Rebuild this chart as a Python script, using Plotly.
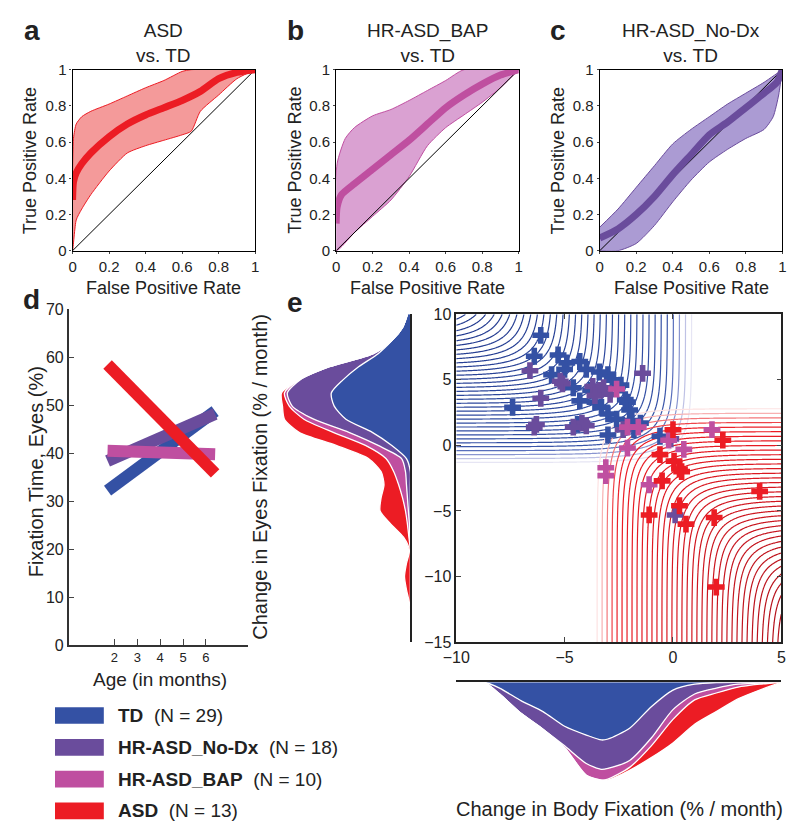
import numpy as np
import plotly.graph_objects as go

W, H = 800, 839
FONT = "Liberation Sans, Arial, sans-serif"

# group colours
c_td = "#3451a4"
c_nodx = "#6a4c9c"
c_bap = "#bf4fa0"
c_asd = "#ec1c24"

# ---- ROC curves (a, b, c) ----
asd_fpr = [0, 0.005, 0.02, 0.05, 0.1, 0.2, 0.3, 0.4, 0.5, 0.6, 0.7, 0.8, 0.9, 1.0]
asd_mean = [0.28, 0.38, 0.43, 0.48, 0.54, 0.63, 0.70, 0.75, 0.79, 0.83, 0.88, 0.95, 0.985, 1.0]
asd_up_fpr = [0, 0.005, 0.02, 0.05, 0.1, 0.2, 0.3, 0.4, 0.5, 0.6, 0.65, 1.0]
asd_up = [0.0, 0.62, 0.70, 0.74, 0.77, 0.81, 0.855, 0.90, 0.94, 0.99, 1.0, 1.0]
asd_lo_fpr = [0, 0.02, 0.05, 0.1, 0.2, 0.3, 0.4, 0.5, 0.6, 0.65, 0.7, 0.8, 0.9, 1.0]
asd_lo = [0.0, 0.17, 0.23, 0.31, 0.44, 0.54, 0.58, 0.61, 0.64, 0.66, 0.77, 0.86, 0.95, 1.0]

bap_fpr = [0, 0.005, 0.03, 0.1, 0.2, 0.3, 0.4, 0.5, 0.6, 0.7, 0.8, 0.9, 1.0]
bap_mean = [0.15, 0.24, 0.31, 0.37, 0.45, 0.53, 0.61, 0.70, 0.79, 0.86, 0.92, 0.97, 1.0]
bap_up_fpr = [0, 0.005, 0.05, 0.1, 0.2, 0.3, 0.4, 0.5, 0.6, 0.7, 1.0]
bap_up = [0.0, 0.48, 0.62, 0.68, 0.745, 0.78, 0.83, 0.885, 0.94, 1.0, 1.0]
bap_lo_fpr = [0, 0.1, 0.2, 0.3, 0.4, 0.5, 0.6, 0.7, 0.8, 0.9, 1.0]
bap_lo = [0.0, 0.10, 0.19, 0.28, 0.41, 0.58, 0.68, 0.75, 0.82, 0.90, 1.0]

nodx_fpr = [0, 0.1, 0.2, 0.3, 0.4, 0.5, 0.6, 0.7, 0.8, 0.9, 0.97, 1.0]
nodx_mean = [0.07, 0.12, 0.20, 0.30, 0.42, 0.53, 0.64, 0.71, 0.79, 0.87, 0.93, 1.0]
nodx_up_fpr = [0, 0.1, 0.2, 0.3, 0.4, 0.5, 0.6, 0.7, 0.8, 0.9, 1.0]
nodx_up = [0.13, 0.23, 0.35, 0.47, 0.59, 0.67, 0.74, 0.81, 0.87, 0.93, 1.0]
nodx_lo_fpr = [0, 0.1, 0.2, 0.3, 0.4, 0.5, 0.6, 0.7, 0.8, 0.9, 0.95, 0.98, 1.0]
nodx_lo = [0.0, 0.0, 0.04, 0.14, 0.27, 0.39, 0.49, 0.56, 0.62, 0.67, 0.74, 0.86, 1.0]

roc_ticks = [0, 0.2, 0.4, 0.6, 0.8, 1]
roc_ticktext = ["0", "0.2", "0.4", "0.6", "0.8", "1"]

# ---- panel d: fixation time vs age ----
age_months = [1.7, 6.4]
fix_td = [32.2, 48.8]
fix_nodx = [38.4, 48.2]
fix_bap = [40.5, 39.8]
fix_asd = [58.5, 35.8]

# ---- panel e: scatter of change rates ----
td_x = [-6.1, -6.4, -5.3, -4.9, -4.3, -4.0, -5.0, -3.0, -2.8, -3.4, -7.4, -4.3, -3.6, -3.0, -2.1,
        -2.0, -2.2, -3.0, -1.5, -1.8, -4.4, -2.6, -0.6, -3.8, -4.6, -1.9, -3.3, -5.6, -2.4]
td_y = [8.4, 6.8, 6.9, 6.3, 6.4, 5.8, 5.8, 5.4, 5.0, 5.6, 2.9, 3.4, 3.3, 2.4, 3.3,
        2.7, 3.5, 0.8, 1.7, 1.2, 1.6, 2.0, 0.7, 4.2, 4.4, 1.9, 2.9, 5.4, 4.6]
nodx_x = [-6.6, -6.1, -6.4, -6.3, -5.1, -5.2, -4.2, -4.0, -3.7, -3.4, -3.2, -1.4, 0.1, -0.1,
          -4.6, -3.6, -2.9, -2.3]
nodx_y = [5.7, 3.6, 1.4, 1.6, 4.7, 4.9, 1.7, 1.5, 4.5, 4.2, 4.4, 5.5, -5.3, 0.5,
          1.4, 3.8, 3.9, 1.2]
bap_x = [-3.1, -3.1, -2.1, -2.1, -1.6, -1.1, -2.6, -0.2, 1.8, 0.5]
bap_y = [-1.7, -2.3, -0.2, 1.4, 1.4, -3.0, 4.3, 0.4, 1.2, -0.3]
asd_x = [0.0, 2.3, -0.6, 0.05, 0.3, -0.5, 4.0, -1.1, 0.3, 0.6, 1.9, 2.0, 0.4]
asd_y = [1.2, 0.4, -0.7, -1.2, -1.8, -2.7, -3.5, -5.3, -4.6, -6.0, -5.5, -10.8, -2.0]

# marginal density of eyes-fixation change (stacked, left)
eyes_y = [10, 9, 8, 7, 6, 5, 4, 3, 2, 1, 0, -1, -2, -3, -4, -5, -6, -7, -8, -9, -10, -11, -12, -13, -15]
eyes_td = [3, 8, 19, 33, 53, 69, 81, 78, 66, 39, 19, 4, 0, 0, 0, 0, 0, 0, 0, 0, 0, 0, 0, 0, 0]
eyes_nodx = [0, 0, 0, 5, 30, 44, 45, 43, 33, 24, 14, 5, 5, 4, 3, 2, 1, 0.5, 0, 0, 0, 0, 0, 0, 0]
eyes_bap = [0, 0, 0, 0, 0, 1, 3, 3, 10, 16, 13, 16, 12, 8, 5, 3, 2, 1, 0, 0, 0, 0, 0, 0, 0]
eyes_asd = [0, 0, 0, 0, 0, 0, 3, 7, 20, 35, 30, 18, 13, 15, 22, 26, 17, 5.5, 1, 4, 6, 4, 1, 0, 0]

# marginal density of body-fixation change (stacked, bottom)
body_x = [-10, -9, -8.7, -8, -7, -6, -5, -4, -3.3, -3, -2, -1, 0, 1, 2, 3, 4, 5]
body_td = [0, 0, 0, 6, 19, 30, 45, 54, 59, 58, 47, 25, 8, 2, 0.3, 0, 0, 0]
body_nodx = [0, 0, 0, 6, 13, 18, 20, 29, 30, 30, 33, 32, 20, 10, 5.7, 2, 1, 0]
body_bap = [0, 0, 0, 0, 0, 0, 2, 12, 11, 11, 7, 8, 10, 6, 5, 3, 1, 0]
body_asd = [0, 0, 0, 0, 0, 0, 0, 0, 0, 1, 3, 12, 24, 25, 19, 12, 6, 0]

groups = ["TD", "HR-ASD_No-Dx", "HR-ASD_BAP", "ASD"]
group_n = [29, 18, 10, 13]
group_colors = [c_td, c_nodx, c_bap, c_asd]


def hx(a, b):
    return [a / W, b / W]


def vy(top, bottom):
    return [1 - bottom / H, 1 - top / H]


fig = go.Figure()

# ROC panels
roc_sets = [
    (asd_fpr, asd_mean, asd_up_fpr, asd_up, asd_lo_fpr, asd_lo, c_asd, "rgba(240,120,120,0.75)", "x", "y"),
    (bap_fpr, bap_mean, bap_up_fpr, bap_up, bap_lo_fpr, bap_lo, c_bap, "rgba(205,130,195,0.75)", "x2", "y2"),
    (nodx_fpr, nodx_mean, nodx_up_fpr, nodx_up, nodx_lo_fpr, nodx_lo, c_nodx, "rgba(150,130,200,0.8)", "x3", "y3"),
]
for fpr, mean, ufpr, up, lfpr, lo, col, band, xa, ya in roc_sets:
    fig.add_trace(go.Scatter(x=list(ufpr) + list(lfpr)[::-1], y=list(up) + list(lo)[::-1],
                             fill="toself", fillcolor=band, mode="lines",
                             line=dict(color=col, width=1, shape="spline", smoothing=0.6),
                             xaxis=xa, yaxis=ya, hoverinfo="skip"))
    fig.add_trace(go.Scatter(x=[0, 1], y=[0, 1], mode="lines", line=dict(color="black", width=1),
                             xaxis=xa, yaxis=ya, hoverinfo="skip"))
    fig.add_trace(go.Scatter(x=fpr, y=mean, mode="lines",
                             line=dict(color=col, width=7, shape="spline", smoothing=0.6),
                             xaxis=xa, yaxis=ya))

# panel d
for vals, col in [(fix_td, c_td), (fix_nodx, c_nodx), (fix_bap, c_bap), (fix_asd, c_asd)]:
    fig.add_trace(go.Scatter(x=age_months, y=vals, mode="lines", line=dict(color=col, width=12),
                             xaxis="x4", yaxis="y4"))

# panel e contour backgrounds (smooth corner fields around each group's region)
gx = np.linspace(-10, 5, 301)
gy = np.linspace(-15, 10, 501)
GX, GY = np.meshgrid(gx, gy)
soft = 5.0


def corner_field(a, b):
    return -soft * np.logaddexp(-a / soft, -b / soft)


td_edge_x, td_edge_y, td_step_x, td_step_y = 0.86, -1.3, 0.28, 0.30
asd_edge_x, asd_edge_y, asd_step_x, asd_step_y = -3.5, 2.8, 0.23, 0.35
z_td = corner_field((GY - td_edge_y) / td_step_y, (td_edge_x - GX) / td_step_x)
z_asd = corner_field((asd_edge_y - GY) / asd_step_y, (GX - asd_edge_x) / asd_step_x)

blue_scale = [[0, "#e6e5f4"], [0.03, "#b9bde3"], [0.07, "#6477c2"], [0.11, "#3551a6"], [1, "#1f368a"]]
red_scale = [[0, "#fde2e2"], [0.03, "#f7a9aa"], [0.07, "#f05055"], [0.11, "#ec1c24"], [1, "#b0101a"]]
for z, cs in [(z_td, blue_scale), (z_asd, red_scale)]:
    fig.add_trace(go.Contour(x=gx, y=gy, z=z, contours=dict(start=0, end=40, size=1, coloring="lines"),
                             colorscale=cs, zmin=0, zmax=38, showscale=False,
                             line=dict(width=1.2), xaxis="x5", yaxis="y5", hoverinfo="skip"))

for xs, ys, col in [(td_x, td_y, c_td), (nodx_x, nodx_y, c_nodx), (bap_x, bap_y, c_bap), (asd_x, asd_y, c_asd)]:
    fig.add_trace(go.Scatter(x=xs, y=ys, mode="markers",
                             marker=dict(symbol="cross", size=14, color=col, line=dict(width=0)),
                             xaxis="x5", yaxis="y5"))

# marginal densities
for vals, col in [(eyes_td, c_td), (eyes_nodx, c_nodx), (eyes_bap, c_bap), (eyes_asd, c_asd)]:
    fig.add_trace(go.Scatter(x=vals, y=eyes_y, stackgroup="eyes", orientation="h", mode="lines",
                             fillcolor=col, line=dict(color="white", width=1.3, shape="spline", smoothing=0.7),
                             xaxis="x6", yaxis="y6", hoverinfo="skip"))
for vals, col in [(body_td, c_td), (body_nodx, c_nodx), (body_bap, c_bap), (body_asd, c_asd)]:
    fig.add_trace(go.Scatter(x=body_x, y=vals, stackgroup="body", mode="lines",
                             fillcolor=col, line=dict(color="white", width=1.3, shape="spline", smoothing=0.7),
                             xaxis="x7", yaxis="y7", hoverinfo="skip"))

tf = dict(family=FONT, size=15, color="#222")
roc_ax = dict(range=[0, 1], tickvals=roc_ticks, ticktext=roc_ticktext, ticks="outside", ticklen=2,
              showline=True, mirror=True, linecolor="black", linewidth=1.2, showgrid=False,
              zeroline=False, tickfont=tf)
hidden = dict(visible=False, showgrid=False, zeroline=False)

layout = dict(
    width=W, height=H, margin=dict(l=0, r=0, t=0, b=0), showlegend=False,
    paper_bgcolor="white", plot_bgcolor="white", font=dict(family=FONT, color="#222"),
    xaxis=dict(domain=hx(60, 247), anchor="y", **roc_ax),
    yaxis=dict(domain=vy(62, 247), anchor="x", **roc_ax),
    xaxis2=dict(domain=hx(330, 517), anchor="y2", **roc_ax),
    yaxis2=dict(domain=vy(62, 247), anchor="x2", **roc_ax),
    xaxis3=dict(domain=hx(600, 787), anchor="y3", **roc_ax),
    yaxis3=dict(domain=vy(62, 247), anchor="x3", **roc_ax),
    xaxis4=dict(domain=hx(56, 240), anchor="y4", range=[0, 7.85], tickvals=[2, 3, 4, 5, 6],
                ticks="inside", ticklen=6, showline=True, linecolor="#333", linewidth=1.5,
                showgrid=False, zeroline=False, tickfont=dict(family=FONT, size=13, color="#222")),
    yaxis4=dict(domain=vy(307, 650), anchor="x4", range=[0, 70], dtick=10,
                ticks="inside", ticklen=6, showline=True, linecolor="#333", linewidth=1.5,
                showgrid=False, zeroline=False, tickfont=dict(family=FONT, size=16, color="#222")),
    xaxis5=dict(domain=hx(453, 786), anchor="y5", range=[-10, 5], tickvals=[-10, -5, 0, 5],
                ticks="inside", ticklen=5, showline=True, mirror="ticks", linecolor="#222",
                linewidth=1.5, showgrid=False, zeroline=False, tickfont=dict(family=FONT, size=16, color="#222")),
    yaxis5=dict(domain=vy(312, 647), anchor="x5", range=[-15, 10], tickvals=[-15, -10, -5, 0, 5, 10],
                ticks="inside", ticklen=5, showline=True, mirror="ticks", linecolor="#222",
                linewidth=1.5, showgrid=False, zeroline=False, tickfont=dict(family=FONT, size=16, color="#222")),
    xaxis6=dict(domain=hx(266, 406), anchor="y6", range=[140, 0], **hidden),
    yaxis6=dict(domain=vy(312, 647), anchor="x6", range=[-15, 10], side="right", showline=True,
                linecolor="#222", linewidth=1.5, showticklabels=False, ticks="", showgrid=False,
                zeroline=False),
    xaxis7=dict(domain=hx(453, 786), anchor="y7", range=[-10, 5], side="top", showline=True,
                linecolor="#222", linewidth=1.5, showticklabels=False, ticks="", showgrid=False,
                zeroline=False),
    yaxis7=dict(domain=vy(688, 792), anchor="x7", range=[104, 0], **hidden),
)
fig.update_layout(**layout)


def note(text, x, y, size=18, angle=0, xanchor="center", yanchor="middle", bold=False):
    if bold:
        text = "<b>" + text + "</b>"
    fig.add_annotation(text=text, x=x / W, y=1 - y / H, xref="paper", yref="paper", showarrow=False,
                       textangle=angle, xanchor=xanchor, yanchor=yanchor,
                       font=dict(family=FONT, size=size, color="#222"))


# panel letters
for letter, lx, ly in [("a", 18, 22), ("b", 288, 22), ("c", 557, 22), ("d", 18, 297), ("e", 288, 300)]:
    note(letter, lx, ly, size=28, bold=True)

# ROC titles and labels
for title, cx, ytx in [("ASD<br>vs. TD", 153.5, 16), ("HR-ASD_BAP<br>vs. TD", 423.5, 287),
                       ("HR-ASD_No-Dx<br>vs. TD", 693.5, 557)]:
    note(title, cx, 35, size=19)
    note("True Positive Rate", ytx, 155, size=18, angle=-90)
    note("False Positive Rate", cx, 285, size=18)

note("Fixation Time, Eyes (%)", 22, 473, size=20, angle=-90)
note("Age (in months)", 150, 685, size=19)
note("Change in Eyes Fixation (% / month)", 252, 478, size=20, angle=-90)
note("Change in Body Fixation (% / month)", 620, 818, size=20)

# legend
for i, (g, n, col) in enumerate(zip(groups, group_n, group_colors)):
    yc = 722 + i * 32.5
    fig.add_shape(type="rect", xref="paper", yref="paper", x0=42 / W, x1=92 / W,
                  y0=1 - (yc + 8.5) / H, y1=1 - (yc - 8.5) / H, fillcolor=col, line=dict(width=0))
    note("<b>" + g + "</b>&nbsp;&nbsp;(N = " + str(n) + ")", 104, yc, size=19, xanchor="left")

fig.write_html("out.html", config={"displayModeBar": False},
               post_script="document.body.style.margin='0';")
